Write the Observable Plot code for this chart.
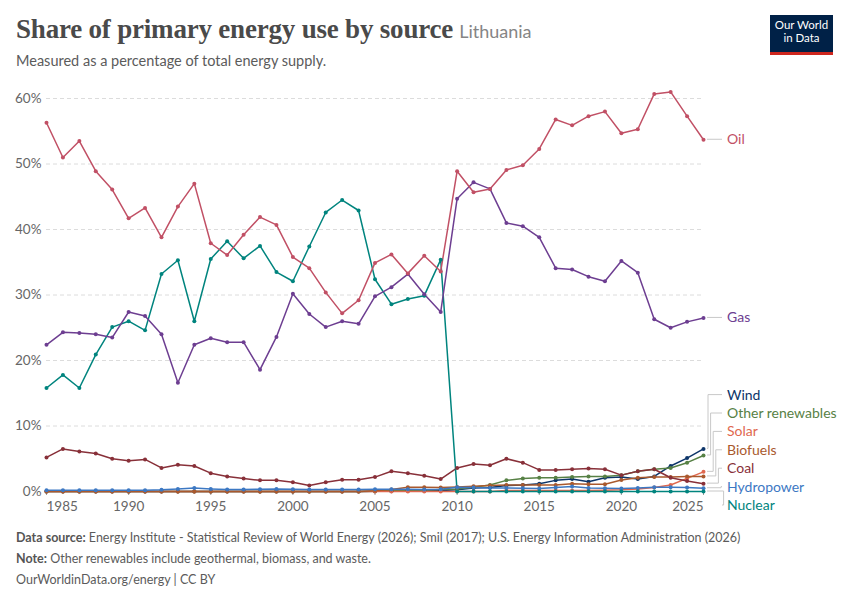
<!DOCTYPE html>
<html><head><meta charset="utf-8">
<script src="https://cdn.jsdelivr.net/npm/d3@7"></script>
<script src="https://cdn.jsdelivr.net/npm/@observablehq/plot@0.6"></script>
<style>
body{margin:0;width:850px;height:600px;position:relative;font-family:Lato,sans-serif;background:#fff;overflow:hidden}
#title{position:absolute;left:16px;top:14px;white-space:nowrap}
#title .t{font-family:"Liberation Serif",serif;font-weight:bold;font-size:27px;color:#4a4a4a;letter-spacing:-0.2px}
#title .c{font-family:Lato,sans-serif;font-size:18px;color:#858585;margin-left:2px}
#subtitle{position:absolute;left:16px;top:52px;font-size:14.5px;color:#5b5b5b}
#logo{position:absolute;left:770px;top:15px;width:63px;height:34px;background:#002147;border-bottom:3px solid #ce261e;color:#fff;font-size:11.5px;line-height:13px;text-align:center;padding-top:3px;box-sizing:content-box}
#chart{position:absolute;left:0;top:78px}
#footer{position:absolute;left:16px;top:527px;font-size:12.5px;color:#5b5b5b;line-height:21px}
#footer b{font-weight:bold;color:#555}
</style></head><body>
<div id="title"><span class="t">Share of primary energy use by source</span> <span class="c">Lithuania</span></div>
<div id="subtitle">Measured as a percentage of total energy supply.</div>
<div id="logo">Our World<br>in Data</div>
<div id="chart"></div>
<div id="footer">
<div><b>Data source:</b> Energy Institute - Statistical Review of World Energy (2026); Smil (2017); U.S. Energy Information Administration (2026)</div>
<div><b>Note:</b> Other renewables include geothermal, biomass, and waste.</div>
<div>OurWorldinData.org/energy | CC BY</div>
</div>
<script>
const years = d3.range(1985, 2026);
const oil = [56.3,51.0,53.5,48.9,46.1,41.7,43.3,38.8,43.5,47.0,
  37.9,36.1,39.2,41.9,40.7,35.8,34.1,30.4,27.2,29.2,
  34.9,36.2,33.3,36.0,33.6,48.9,45.7,46.2,49.1,49.8,
  52.3,56.8,55.9,57.3,58.0,54.7,55.3,60.7,61.0,57.3,
  53.7];
const gas = [22.4,24.3,24.2,24.0,23.5,27.4,26.8,24.0,16.6,22.4,
  23.4,22.8,22.8,18.6,23.6,30.2,27.1,25.1,26.0,25.6,
  29.8,31.2,33.2,30.1,27.4,44.7,47.2,46.2,41.0,40.5,
  38.8,34.1,33.9,32.8,32.1,35.2,33.4,26.3,25.0,25.9,
  26.5];
const nuclear = [15.8,17.8,15.8,20.9,25.1,26.0,24.6,33.2,35.3,26.0,
  35.5,38.2,35.6,37.5,33.5,32.1,37.4,42.6,44.5,42.9,
  32.4,28.6,29.4,29.9,35.4,0,0,0,0,0,
  0,0,0,0,0,0,0,0,0,0,
  0];
const coal = [5.2,6.5,6.1,5.8,5.0,4.7,4.9,3.6,4.1,3.9,
  2.8,2.3,2.0,1.7,1.7,1.4,0.9,1.4,1.8,1.8,
  2.2,3.1,2.8,2.4,1.9,3.6,4.2,4.0,5.0,4.4,
  3.3,3.3,3.4,3.5,3.4,2.5,3.1,3.4,2.1,1.6,
  1.2];
const hydro = [0.2,0.2,0.2,0.2,0.2,0.2,0.2,0.25,0.4,0.55,
  0.4,0.3,0.3,0.35,0.4,0.35,0.3,0.3,0.3,0.3,
  0.35,0.35,0.35,0.3,0.35,0.65,0.6,0.55,0.55,0.5,
  0.45,0.6,0.75,0.55,0.5,0.45,0.55,0.65,0.65,0.6,
  0.5];
const wind = [0,0,0,0,0,0,0,0,0,0,
  0,0,0,0,0,0,0,0,0,0,
  0.02,0.04,0.1,0.1,0.15,0.25,0.55,0.6,0.9,1.0,
  1.2,1.7,1.9,1.5,2.1,2.2,1.9,2.3,3.9,5.1,
  6.5];
const solar = [0,0,0,0,0,0,0,0,0,0,
  0,0,0,0,0,0,0,0,0,0,
  0,0,0,0,0,0,0,0,0.15,0.15,
  0.15,0.15,0.15,0.15,0.2,0.25,0.4,0.6,1.0,2.0,
  3.0];
const biofuels = [0,0,0,0,0,0,0,0,0,0,
  0,0,0,0,0,0,0,0,0,0,
  0.1,0.3,0.65,0.65,0.6,0.7,0.8,0.9,1.0,1.0,
  1.0,1.0,1.2,1.1,1.1,1.75,2.1,2.2,2.2,2.3,
  2.3];
const otherRenewables = [0,0,0,0,0,0,0,0,0,0,
  0,0,0,0,0,0,0,0,0,0,
  0.05,0.1,0.15,0.2,0.3,0.4,0.65,1.0,1.7,2.0,
  2.1,2.1,2.2,2.3,2.3,2.5,3.1,3.4,3.6,4.4,
  5.5];
const seriesNames = ["Wind","Other renewables","Solar","Biofuels","Coal","Hydropower","Nuclear","Gas","Oil"];
const seriesValues = [wind, otherRenewables, solar, biofuels, coal, hydro, nuclear, gas, oil];
const seriesColors = ["#0d3569","#578145","#e0684f","#a9592d","#883039","#3c78c3","#00847e","#6d3e91","#c15065"];
const yTicks = [0,10,20,30,40,50,60];
const xTicks = [1985,1990,1995,2000,2005,2010,2015,2020,2025];

const rows = seriesNames.flatMap((s, k) => years.map((yr, i) => ({series: s, year: yr, value: seriesValues[k][i]})));

const W = 850, H = 443, mL = 46, mR = 147, mT = 20, mB = 30;
const axisStyle = {fill: "#666", fontSize: 13.5, tickSize: 4, stroke: "#999", tickPadding: 6, tickFormat: d => String(d), label: null};
const chart = Plot.plot({
  width: W, height: H, marginLeft: mL, marginRight: mR, marginTop: mT, marginBottom: mB,
  style: {fontFamily: "Lato, sans-serif", fontSize: "13.5px", overflow: "visible", background: "transparent"},
  x: {domain: [1985, 2025], label: null},
  y: {domain: [0, 60], label: null},
  color: {domain: seriesNames, range: seriesColors},
  marks: [
    Plot.gridY(yTicks.slice(1), {stroke: "#dcdcdc", strokeOpacity: 1, strokeDasharray: "4,3"}),
    Plot.axisY(yTicks, {tickSize: 0, tickPadding: 5, tickFormat: d => d + "%", fill: "#666", fontSize: 13.5, label: null}),
    Plot.axisX(xTicks.slice(1, -1), axisStyle),
    Plot.axisX(xTicks.slice(0, 1), {...axisStyle, textAnchor: "start"}),
    Plot.axisX(xTicks.slice(-1), {...axisStyle, textAnchor: "end"}),
    Plot.line(rows, {x: "year", y: "value", z: "series", stroke: "series", strokeWidth: 1.5}),
    Plot.dot(rows, {x: "year", y: "value", fill: "series", r: 2})
  ]
});
document.getElementById("chart").appendChild(chart);

// right-hand labels with dodge
const xs = chart.scale("x"), ys = chart.scale("y");
const xEnd = xs.apply(years[years.length - 1]);
const gap = 18.4, maxY = (H - mB) + 14;
const items = seriesNames.map((s, k) => ({name: s, color: seriesColors[k], want: ys.apply(seriesValues[k][years.length - 1])}))
  .sort((a, b) => a.want - b.want);
items.forEach(d => d.pos = d.want);
for (let i = 1; i < items.length; i++) if (items[i].pos < items[i-1].pos + gap) items[i].pos = items[i-1].pos + gap;
if (items[items.length-1].pos > maxY) {
  items[items.length-1].pos = maxY;
  for (let i = items.length - 2; i >= 0; i--) if (items[i].pos > items[i+1].pos - gap) items[i].pos = items[i+1].pos - gap;
}
const svg = d3.select(chart);
const g = svg.append("g").attr("text-anchor", "start");
const moved = items.filter(d => Math.abs(d.pos - d.want) >= 1);
items.forEach(d => {
  const x0 = xEnd + 4, x1 = xEnd + 19;
  let pts;
  if (Math.abs(d.pos - d.want) < 1) pts = [[x0, d.want], [x1, d.want]];
  else {
    const k = moved.indexOf(d);
    const ex = xEnd + 5 + k * 2.6;
    pts = [[x0, d.want], [ex, d.want], [ex, d.pos], [x1, d.pos]];
  }
  g.append("path").attr("d", d3.line()(pts)).attr("fill", "none").attr("stroke", "#c8c8c8").attr("stroke-width", 1);
  g.append("text").attr("x", xEnd + 24).attr("y", d.pos).attr("dy", "0.35em").attr("text-anchor", "start")
    .attr("fill", d.color).attr("font-size", 14).attr("font-family", "Lato, sans-serif").text(d.name);
});
</script>
</body></html>
